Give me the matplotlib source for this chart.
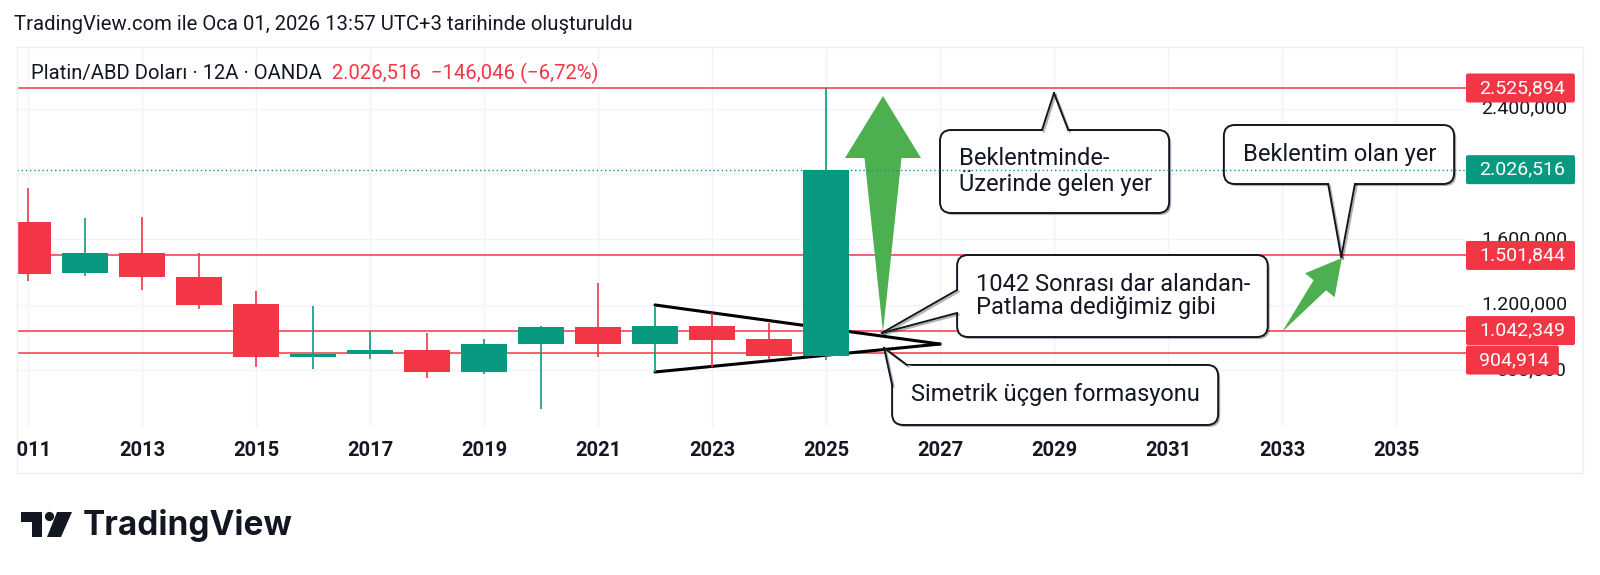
import numpy as np
import matplotlib.pyplot as plt
import matplotlib.patheffects as pe
from matplotlib.patches import FancyBboxPatch, Polygon, Rectangle, Circle
from matplotlib.lines import Line2D
from matplotlib.transforms import Bbox, IdentityTransform

plt.rcParams['font.family'] = ['Roboto', 'DejaVu Sans']

# yearly candles, Platin/ABD Dolari (12A)
years = list(range(2011, 2026))
opens = [1705, 1393, 1519, 1368, 1203, 883, 897, 922, 789, 960, 1064, 960, 1072, 989, 887]
highs = [1912, 1733, 1737, 1515, 1286, 1193, 1038, 1026, 991, 1072, 1335, 1193, 1148, 1087, 2525.894]
lows = [1345, 1376, 1291, 1172, 818, 805, 867, 750, 775, 561, 883, 791, 821, 867, 862]
closes = [1388, 1519, 1368, 1199, 883, 901, 922, 789, 960, 1064, 960, 1072, 985, 887, 2026.516]

levels = [2525.894, 1501.844, 1042.349, 904.914]
last_close = 2026.516
price_ticks = [800, 1200, 1600, 2000, 2400]
year_ticks = list(range(2011, 2037, 2))

header = "TradingView.com ile Oca 01, 2026 13:57 UTC+3 tarihinde oluşturuldu"
symbol = "Platin/ABD Doları · 12A · OANDA"
change = "2.026,516  \u2212146,046 (\u22126,72%)"

# drawings (data coords)
tri_upper = [(2022, 1199), (2027, 960)]
tri_lower = [(2022, 789), (2027, 960)]
big_arrow = [(2026.0, 1034), (2026.0, 2477)]
small_arrow = [(2033.0, 1034), (2034.05, 1486)]

callout_texts = ["Beklentminde-\nÜzerinde gelen yer",
                 "1042 Sonrası dar alandan-\nPatlama dediğimiz gibi",
                 "Simetrik üçgen formasyonu",
                 "Beklentim olan yer"]
callout_tips = [(2029.0, 2495), (2025.98, 1027.5), (2026.02, 936), (2034.04, 1492)]
callout_boxes = [(2027.0, 2031.02, 1761.5, 2269), (2027.30, 2032.75, 1003, 1504.6),
                 (2026.16, 2031.88, 465, 832), (2031.98, 2036.02, 1938.8, 2299.7)]
callout_bases = [[(2028.79, 2269), (2029.25, 2269)], [(2027.30, 1290.5), (2027.30, 1150)],
                 [(2026.16, 709.5), (2026.42, 832)], [(2033.81, 1938.8), (2034.28, 1938.8)]]

RED = '#f23645'
GREEN = '#089981'
ARROW = '#4caf50'
INK = '#131722'
W, H = 1600, 575
PIX = IdentityTransform()


def tr_num(v):
    s = f"{v:,.3f}"
    return s.replace(',', 'X').replace('.', ',').replace('X', '.')


def top(y):
    return H - y


fig = plt.figure(figsize=(16, 5.75), dpi=100)
fig.patch.set_facecolor('white')
ax = fig.add_axes([17 / W, (H - 427) / H, (1466 - 17) / W, (427 - 47) / H])
ax.set_xlim(2010.807, 2036.228)
ax.set_ylim(452.6, 2776.8)
for s in ax.spines.values():
    s.set_visible(False)
ax.set_xticks(year_ticks)
ax.set_yticks(price_ticks)
ax.tick_params(length=0, labelbottom=False, labelleft=False)
ax.grid(color='#f0f3fa', lw=1)
ax.set_axisbelow(True)

# horizontal levels
for lv in levels:
    ax.axhline(lv, color=RED, lw=1.1, zorder=2)

# triangle
for seg in (tri_upper, tri_lower):
    xs, ys = zip(*seg)
    ax.plot(xs, ys, color='black', lw=2.2, zorder=2.5, solid_capstyle='round')

# candles
o = np.array(opens, dtype=float)
c = np.array(closes, dtype=float)
cols = np.where(c >= o, GREEN, RED)
ax.vlines(years, lows, highs, colors=cols, lw=1.2, zorder=3)
ax.bar(years, c - o, bottom=o, width=0.8, color=cols, zorder=4)

ax.axhline(last_close, color=GREEN, lw=1, ls=(0, (1, 2)), zorder=20)

fig.canvas.draw()
r = fig.canvas.get_renderer()


def to_px(p):
    return ax.transData.transform(p)


def tapered_arrow(p0, p1, head_len, head_half, shaft_half):
    a = to_px(p0)
    b = to_px(p1)
    d = b - a
    u = d / np.hypot(*d)
    n = np.array([-u[1], u[0]])
    base = b - u * head_len
    pts = [a, base - n * shaft_half, base - n * head_half, b,
           base + n * head_half, base + n * shaft_half]
    ax.add_artist(Polygon(pts, closed=True, fc=ARROW, ec='none', transform=PIX, zorder=8))


tapered_arrow(big_arrow[0], big_arrow[1], 62, 38, 18.5)
tapered_arrow(small_arrow[0], small_arrow[1], 35, 19, 8)

shadow = [pe.SimplePatchShadow(offset=(1.5, -1.5), shadow_rgbFace='black', alpha=0.3), pe.Normal()]
lshadow = [pe.SimpleLineShadow(offset=(1.2, -1.2), shadow_color='black', alpha=0.3), pe.Normal()]
for txt, tip, box, base in zip(callout_texts, callout_tips, callout_boxes, callout_bases):
    x0, y0 = to_px((box[0], box[2]))
    x1, y1 = to_px((box[1], box[3]))
    ax.add_artist(FancyBboxPatch((x0, y0), x1 - x0, y1 - y0,
                                 boxstyle='round,pad=0,rounding_size=11',
                                 fc='white', ec=INK, lw=1.4, transform=PIX,
                                 zorder=10, path_effects=shadow))
    t = to_px(tip)
    b1 = to_px(base[0])
    b2 = to_px(base[1])
    cen = np.array([(x0 + x1) / 2, (y0 + y1) / 2])
    b1i = b1 + (cen - b1) / np.hypot(*(cen - b1)) * 5
    b2i = b2 + (cen - b2) / np.hypot(*(cen - b2)) * 5
    ax.add_artist(Polygon([b1, t, b2, b2i, b1i], closed=True, fc='white', ec='none',
                          transform=PIX, zorder=11))
    for bb in (b1, b2):
        ax.add_artist(Line2D([t[0], bb[0]], [t[1], bb[1]], color=INK, lw=1.4,
                             transform=PIX, zorder=12, path_effects=lshadow))
    ax.text(x0 + 19, (y0 + y1) / 2, txt, transform=PIX, fontsize=17, color=INK,
            ha='left', va='center', linespacing=1.0, zorder=13)

# price scale: tags on the levels and the last close
tags = sorted([(lv, RED) for lv in levels] + [(last_close, GREEN)], key=lambda q: -q[0])
prev_bottom = None
spans = []
for val, col in tags:
    yc = to_px((0, val))[1]
    if prev_bottom is not None and yc + 14.5 > prev_bottom:
        yc = prev_bottom - 15
    tt = fig.text(1479 / W, yc / H, tr_num(val), ha='left', va='center', fontsize=14,
                  color='white', zorder=7)
    ext = tt.get_window_extent(r)
    fig.add_artist(FancyBboxPatch((1466, yc - 14.5), ext.x1 + 10 - 1466, 29,
                                  boxstyle='round,pad=0,rounding_size=2', fc=col,
                                  ec='none', transform=PIX, zorder=6))
    prev_bottom = yc - 14.5
    spans.append((yc - 14.5, yc + 14.5))

for pt in price_ticks:
    yp = to_px((0, pt))[1]
    if any(lo <= yp - 8 and yp + 8 <= hi for lo, hi in spans):
        continue  # fully under a tag
    fig.text(1567 / W, yp / H, tr_num(pt), ha='right', va='center', fontsize=14,
             color=INK, zorder=4)

# time scale
clip = Bbox([[17, 0], [1583, H]])
for yr in year_ticks:
    xp = to_px((yr, 0))[0]
    lab = fig.text(xp / W, top(451) / H, str(yr), ha='center', va='center',
                   fontsize=14.5, fontweight='bold', color=INK)
    lab.set_clip_box(clip)
    lab.set_clip_on(True)

# frame
fig.add_artist(Rectangle((17, top(473)), 1583 - 17, 473 - 47, fill=False,
                         ec='#eceef3', lw=1, transform=PIX, zorder=1))

# header texts
fig.text(14 / W, top(25) / H, header, ha='left', va='center', fontsize=14.6, color=INK)
st = fig.text(31 / W, top(73) / H, symbol, ha='left', va='center', fontsize=14.6, color=INK)
ext = st.get_window_extent(r)
fig.text((ext.x1 + 10) / W, top(73) / H, change, ha='left', va='center',
         fontsize=14.6, color=RED)

# logo
fig.add_artist(Polygon([(21, top(512)), (42, top(512)), (42, top(537)), (32, top(537)),
                        (32, top(521.5)), (21, top(521.5))], closed=True, fc=INK,
                       ec='none', transform=PIX))
fig.add_artist(Circle((49.5, top(516.5)), 4.6, fc=INK, ec='none', transform=PIX))
fig.add_artist(Polygon([(57, top(512)), (72, top(512)), (61, top(537)), (47, top(537))],
                       closed=True, fc=INK, ec='none', transform=PIX))
fig.text(83 / W, top(525) / H, "TradingView", family=['Inter', 'DejaVu Sans'],
         fontweight='bold', fontsize=24, color=INK, ha='left', va='center')

fig.savefig('out.png', dpi=100, facecolor='white')
